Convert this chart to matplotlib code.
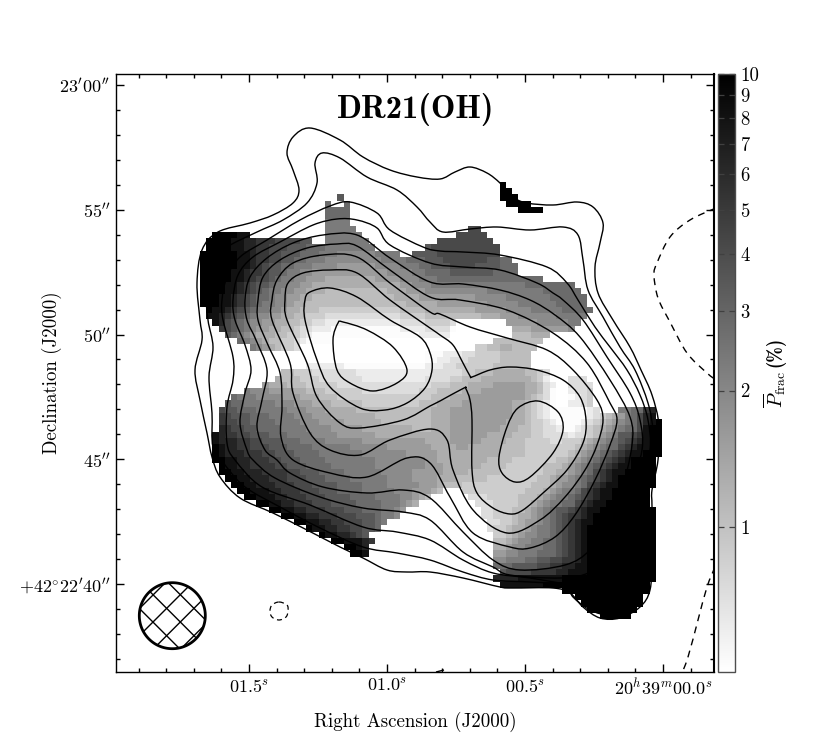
import numpy as np
import matplotlib
matplotlib.use("Agg")
import matplotlib.pyplot as plt
from matplotlib.colors import LogNorm
from matplotlib.path import Path
from matplotlib.patches import PathPatch

plt.rcParams["font.family"] = ["cmr10", "DejaVu Serif"]
plt.rcParams["mathtext.fontset"] = "cm"
plt.rcParams["axes.unicode_minus"] = False
plt.rcParams["axes.formatter.use_mathtext"] = True

# map values: one char per 0.25 arcsec cell, '.' = blanked, see LEVEL_VALUES
LEVEL_CHARS = "0123456789abcdef"
LEVEL_VALUES = [0.5, 0.6, 0.72, 0.87, 1.05, 1.27, 1.55, 1.9, 2.3, 2.8, 3.4, 4.2, 5.2, 6.5, 8.0, 10.0]
PFRAC_ROWS = [
    ".......... .......... .......... .......... ........f.",
    ".......... .......... .......... .......... ........ff",
    ".......... .......... ..a....... .......... ........ff f",
    ".......... .......... 9..9...... .......... .........f fff",
    ".......... .......... 9999...... .......... .......... .ffff",
    ".......... .......... 9999",
    ".......... .......... 8888",
    ".......... .......... 88888..... .......... ...bb",
    "..ffffee.. .......... 888888.... .......... .bbbbb",
    ".ffffeeddc ccbbbbaa.. 8888888... ........bb bbbbbbb",
    ".ffffeeddc cbbbaaa999 88888888.. ......abbb bbbbbbbb",
    "ffffffeedc cbbaaa9998 8877777788 88..aaaabb bbbbbbbb",
    "ffffffeedc cbbaa99888 7777777778 888999aaab bbbbbbaa99",
    "ffffffeedc baa9988877 7766666677 7788899aaa bbbbaaaa99 9",
    "fffffeedcc baa9887766 6666666666 7777889999 aaaaaaa999 9",
    "fffffeedcb ba98877666 5555555566 6677788899 9999999999 99999",
    "ffffeedcba a988776655 5555555555 5566777888 8888888888 8899999999",
    "ffffeedcba 9887766555 4444444444 5556667777 7777778888 8888899999 9",
    "fffeedcba9 9877665544 4444444444 4555566666 6666777778 8888889999 99",
    "fffeedcba9 8877655444 4444444444 4445555566 6666667777 7888888999 99",
    ".feedcba98 8776554443 3333333333 3344445555 5555666667 7778888899 999",
    ".eedcba987 7665544333 2222222222 2233334444 4444455566 6777777888 88",
    "..edba9877 6655443322 1111111111 1122223333 2........6 6666777778 8",
    "...cba9876 6554432211 1000000000 0011112222 0......... 5556666667",
    "....a98765 5544332100 0000000000 0000011111 .......... 444555",
    "......9876 5443321000 0......... .......... .......444 44444",
    "........87 654332.... .......... .......... ....334455 4444",
    ".......... .......... .......... ......0001 1122333344 444",
    ".......... .......... .......... ......0011 2223333344 444",
    ".......... .......111 1110000000 0000001112 2333333444 444",
    ".......... ...4433322 2222211111 1111111222 2233444555 554432",
    ".......... ..54443332 2222221111 1111112222 3344455555 555431...2 22",
    ".......... 6555444333 3322222222 2222222333 4445555666 6655421..2 222",
    ".......877 7666655444 3333332222 2222233344 4455566666 6655420..1 223",
    ".....98887 7776665554 4433333333 3333333444 5556666666 6654320..0 123",
    "....a99888 8877766655 5444443333 3333344455 5566666666 5543210..1 123",
    "...baa9998 8888777666 5555544444 4444444555 6666666666 5543210000 0012...889 9cd",
    "...cbaaa99 9888877766 6555555544 4444444555 6666666666 5543210000 0012345689 bde",
    "...cbbaa99 9988887776 6665555554 4444444555 6666666665 5543321000 0123456789 bdef",
    "...dcbbaa9 9998888777 7666665555 5555444555 6666666655 5443322100 1234567899 beff",
    "..edccbbaa a999888877 7766666655 5555555555 6666665555 4443322221 2234678aab ceff",
    "..edddccbb aaa9998888 7777776666 6666665555 6666655554 4433332233 3456789abc deff",
    "..feddccbb baaa999988 8888777777 6666666555 5665555544 4433333333 4567899bcd eeff",
    "..fedddccc bbaaa99998 8888887777 7776666655 5555555544 4433333334 56789abcde efff",
    "..ffeeddcc cbbaaa9999 8888888877 7777776655 5555554444 3333333445 6789abcdef fff",
    "...feeddcc ccbbaaa999 9888888877 7777776665 5555544443 3333344456 789abcdeef fff",
    "...ffeeddd ccccbbaaa9 9998888887 7777666665 5554444433 3333344556 789bcdeeff fff",
    "....ffeedd dcccbbbaaa 9999888888 7777666655 5444443333 3333445667 89abcdefff fff",
    ".....ffeed ddcccbbbaa aa99998888 7777766654 4433333333 3334445677 89bcdeefff fff",
    "......ffee eddcccbbba aa99998888 877766654. ..33333333 3344456788 9bcdeeffff ff",
    ".......ffe eeddcccbbb aaaa999988 8877654... ...2223333 3444567889 abcdeeffff ff",
    ".........f feeddcccbb baaaa99998 88765..... ....222333 3445678899 bcdeefffff ff",
    ".......... .ffeeddccc bbbaaa9998 876....... .....22333 4456789aab cdeeffffff fff",
    ".......... ...ffeeddc ccbbbaaa98 87........ .....22333 4556789abc cdefffffff fff",
    ".......... .....ffeed dccbbbaa98 .......... ......2233 4566789abc deefffffff fff",
    ".......... .......fee ddccbbaa9. .......... ......2334 5567889abc deffffffff fff",
    ".......... .........f eeddcba... .......... .......334 5677889abc deffffffff fff",
    ".......... .......... .ffeeedc.. .......... .......445 6778899abc deffffffff fff",
    ".......... .......... ...ffed... .......... .......556 7788899abc deffffffff fff",
    ".......... .......... ....ffe... .......... .......667 7888999abc deffffffff fff",
    ".......... .......... .......... .......... .......778 8899aabbcc deffffffff fff",
    ".......... .......... .......... .......... .......999 aaaabbccdd eeffffffff fff",
    ".......... .......... .......... .......... ........ab bbbccccdde eeffffffff fff",
    ".......... .......... .......... .......... .......ddd deeeeeeeff ffffffffff fff",
    ".......... .......... .......... .......... ........ee eeeeefffff ffffffffff ff",
    ".......... .......... .......... .......... .......... ........ff ffffffffff ff",
    ".......... .......... .......... .......... .......... .......... ffffffffff f",
    ".......... .......... .......... .......... .......... .......... .fffffffff f",
    ".......... .......... .......... .......... .......... .......... ..ffffffff",
    ".......... .......... .......... .......... .......... .......... ....fffff.",
]

# contours (converted to RA/Dec below)
CONTOUR_1 = [(310, 128), (340, 140), (363, 157), (390, 170), (417, 177), (440, 179), (455, 172), (470, 167), (487, 173), (500, 183), (513, 197), (527, 203), (553, 205), (577, 202), (593, 207), (603, 223), (600, 243), (595, 267), (598, 293), (613, 320), (630, 347), (641, 370), (652, 395), (659, 425), (658, 460), (652, 490), (652, 507), (652, 557), (650, 590), (640, 607), (620, 618), (600, 618), (583, 607), (570, 593), (553, 588), (513, 588), (500, 587), (463, 578), (430, 572), (407, 572), (387, 570), (363, 558), (340, 547), (307, 530), (273, 513), (240, 498), (220, 477), (212, 457), (207, 433), (200, 400), (195, 370), (202, 340), (200, 320), (197, 283), (202, 250), (218, 232), (250, 223), (273, 215), (293, 203), (299, 190), (293, 170), (287, 153), (293, 137)]
CONTOUR_2 = [(322, 153), (340, 158), (367, 177), (397, 190), (417, 207), (430, 222), (443, 232), (470, 229), (497, 227), (530, 230), (563, 227), (578, 235), (583, 260), (588, 290), (603, 317), (620, 347), (635, 370), (648, 403), (653, 430), (654, 457), (647, 483), (643, 503), (642, 557), (637, 590), (627, 607), (610, 615), (590, 610), (573, 597), (565, 585), (530, 582), (493, 580), (463, 572), (430, 560), (397, 553), (363, 547), (320, 528), (280, 507), (245, 487), (225, 465), (213, 447), (212, 413), (209, 377), (213, 347), (208, 320), (206, 290), (212, 262), (227, 247), (257, 232), (283, 220), (307, 203), (317, 183), (315, 163)]
CONTOUR_3 = [(350, 202), (377, 213), (390, 230), (423, 247), (440, 251), (463, 252), (500, 255), (547, 267), (567, 283), (578, 300), (595, 327), (610, 347), (627, 370), (640, 395), (648, 420), (650, 450), (640, 490), (632, 520), (628, 545), (618, 572), (600, 592), (570, 585), (530, 578), (493, 573), (463, 560), (430, 540), (397, 532), (363, 527), (310, 505), (262, 487), (235, 460), (227, 443), (227, 407), (233, 380), (233, 357), (223, 320), (222, 300), (227, 277), (240, 257), (267, 240), (300, 220), (330, 206)]
CONTOUR_4 = [(357, 220), (377, 228), (390, 245), (430, 263), (463, 267), (500, 270), (537, 283), (553, 293), (563, 300), (583, 320), (607, 357), (630, 393), (640, 420), (642, 450), (630, 490), (620, 520), (610, 550), (590, 572), (560, 578), (510, 575), (493, 567), (463, 552), (430, 520), (403, 512), (363, 508), (320, 497), (275, 478), (253, 460), (247, 450), (240, 423), (245, 393), (251, 370), (245, 345), (235, 320), (233, 300), (238, 275), (253, 257), (280, 242), (313, 225), (337, 219)]
CONTOUR_5 = [(357, 235), (390, 258), (430, 282), (463, 284), (500, 290), (530, 300), (555, 315), (580, 337), (610, 380), (630, 417), (632, 445), (622, 490), (610, 520), (590, 550), (565, 565), (520, 570), (493, 560), (463, 532), (430, 498), (403, 490), (367, 493), (323, 487), (290, 473), (277, 460), (265, 450), (257, 427), (262, 400), (267, 370), (256, 340), (247, 320), (245, 300), (250, 277), (267, 258), (293, 243), (323, 235)]
CONTOUR_6 = [(357, 246), (390, 270), (430, 297), (460, 300), (507, 310), (553, 333), (587, 363), (610, 403), (617, 420), (610, 445), (595, 480), (575, 515), (555, 537), (530, 548), (510, 547), (473, 533), (450, 497), (430, 463), (407, 458), (367, 477), (330, 473), (293, 460), (281, 437), (282, 407), (280, 373), (268, 345), (258, 320), (258, 300), (263, 277), (280, 260), (307, 248), (337, 244)]
CONTOUR_7 = [(357, 257), (390, 283), (430, 312), (440, 314), (470, 327), (507, 338), (547, 350), (573, 370), (597, 400), (603, 420), (597, 445), (585, 470), (565, 497), (540, 520), (507, 533), (473, 510), (453, 470), (447, 440), (430, 429), (390, 440), (360, 455), (330, 450), (310, 433), (293, 393), (290, 363), (272, 320), (272, 300), (277, 280), (293, 263), (323, 255)]
CONTOUR_8 = [(330, 270), (357, 273), (390, 300), (430, 328), (440, 335), (453, 345), (463, 363), (470, 376), (472, 377), (490, 370), (510, 367), (537, 370), (563, 380), (580, 397), (586, 420), (583, 443), (567, 470), (543, 493), (523, 510), (510, 514), (493, 508), (477, 493), (472, 470), (472, 420), (470, 400), (466, 389), (464, 388), (440, 401), (430, 406), (403, 420), (360, 428), (340, 423), (317, 397), (307, 363), (287, 320), (285, 300), (288, 283), (303, 273)]
CONTOUR_9 = [(330, 288), (357, 297), (390, 320), (420, 337), (430, 353), (432, 370), (425, 388), (407, 403), (385, 410), (360, 408), (330, 387), (317, 360), (305, 320), (305, 300), (310, 292)]
CONTOUR_LEFT_PEAK = [(343, 322), (367, 330), (393, 347), (407, 370), (397, 383), (373, 391), (350, 383), (337, 370), (333, 340), (338, 323)]
CONTOUR_RIGHT_PEAK = [(538, 401), (558, 412), (563, 430), (553, 453), (530, 477), (515, 482), (502, 473), (499, 457), (507, 427), (518, 408)]
NEG_UPPER = [(716, 208), (690, 220), (670, 237), (657, 263), (654, 275), (658, 298), (670, 322), (687, 353), (707, 373), (716, 380)]
NEG_LOWER = [(715, 567), (707, 587), (698, 620), (688, 657), (680, 678)]
NEG_BOTTOM = [(436, 672), (440, 671), (444, 670)]
NEG_BLOB = [(279, 602), (287, 605), (288, 611), (286, 617), (279, 620), (272, 617), (270, 611), (272, 605)]

RA_MAJOR = [1.5, 1.0, 0.5, 0.0]
RA_LABELS = [r"$01.5^{s}$", r"$01.0^{s}$", r"$00.5^{s}$", r"$20^{h}39^{m}00.0^{s}$"]
DEC_MAJOR = [40, 45, 50, 55, 60]
DEC_LABELS = [r"$+42^{\circ}22^{\prime}40^{\prime\prime}$", r"$45^{\prime\prime}$", r"$50^{\prime\prime}$",
              r"$55^{\prime\prime}$", r"$23^{\prime}00^{\prime\prime}$"]
CBAR_TICKS = [1, 2, 3, 4, 5, 6, 7, 8, 9, 10]
HATCH_DOWN = [-29, -1.7, 25.7]
HATCH_UP = [-40, -13, 14.3, 41.7]

W, H = 830, 747
AX_L, AX_R, AX_T, AX_B = 116, 713.5, 74, 672
CELL = 6.24
CELL_X0, CELL_Y0 = 200, 182


def to_ra(px):  # picture x -> RA seconds
    return (663.0 - np.asarray(px, dtype=float)) / 276.0


def to_dec(py):  # picture y -> Dec arcsec
    return 40.0 + (584.0 - np.asarray(py, dtype=float)) / 24.95


def smooth_path(pts, closed=True):
    p = np.array(pts, dtype=float)
    p = np.column_stack([to_ra(p[:, 0]), to_dec(p[:, 1])])
    n = len(p)
    verts = [p[0]]
    codes = [Path.MOVETO]
    for i in range(n if closed else n - 1):
        if closed:
            p0, p1, p2, p3 = p[(i - 1) % n], p[i], p[(i + 1) % n], p[(i + 2) % n]
        else:
            p0, p1, p2, p3 = p[max(i - 1, 0)], p[i], p[i + 1], p[min(i + 2, n - 1)]
        verts += [p1 + (p2 - p0) / 6, p2 - (p3 - p1) / 6, p2]
        codes += [Path.CURVE4] * 3
    return Path(verts, codes)


grid = np.full((len(PFRAC_ROWS), 74), np.nan)
for r, row in enumerate(PFRAC_ROWS):
    row = row.replace(" ", "")
    for c, ch in enumerate(row):
        if ch != ".":
            grid[r, c] = LEVEL_VALUES[LEVEL_CHARS.index(ch)]

fig = plt.figure(figsize=(W / 100, H / 100), dpi=100)
ax = fig.add_axes([AX_L / W, 1 - AX_B / H, (AX_R - AX_L) / W, (AX_B - AX_T) / H])
cax = fig.add_axes([718 / W, 1 - AX_B / H, 17 / W, (AX_B - AX_T) / H])

cmap = plt.get_cmap("gray_r").copy()
cmap.set_bad("white")
norm = LogNorm(vmin=0.478, vmax=10)
extent = (to_ra(CELL_X0), to_ra(CELL_X0 + 74 * CELL), to_dec(CELL_Y0 + grid.shape[0] * CELL), to_dec(CELL_Y0))
im = ax.imshow(np.ma.masked_invalid(grid), cmap=cmap, norm=norm, extent=extent, origin="upper",
               aspect="auto", interpolation="nearest", zorder=1)

for pts in [CONTOUR_1, CONTOUR_2, CONTOUR_3, CONTOUR_4, CONTOUR_5, CONTOUR_6, CONTOUR_7, CONTOUR_8, CONTOUR_9,
            CONTOUR_LEFT_PEAK, CONTOUR_RIGHT_PEAK]:
    ax.add_patch(PathPatch(smooth_path(pts), fill=False, ec="k", lw=1.0, zorder=3))
ax.add_patch(PathPatch(smooth_path(NEG_UPPER, closed=False), fill=False, ec="k", lw=1.0, ls=(0, (5, 4)), zorder=3))
ax.add_patch(PathPatch(smooth_path(NEG_LOWER, closed=False), fill=False, ec="k", lw=1.0, ls=(0, (5, 4)), zorder=3))
ax.add_patch(PathPatch(smooth_path(NEG_BOTTOM, closed=False), fill=False, ec="k", lw=1.0, zorder=3))
ax.add_patch(PathPatch(smooth_path(NEG_BLOB), fill=False, ec="k", lw=0.9, ls=(0, (4, 3)), zorder=3))

ax.set_xlim(to_ra(AX_L), to_ra(AX_R))
ax.set_ylim(to_dec(AX_B), to_dec(AX_T))

# beam with crossed hatching
bx, by = float(to_ra(172.3)), float(to_dec(615.7))
sx, sy = 1 / 276.0, 1 / 24.95
theta = np.linspace(0, 2 * np.pi, 200)
clip = plt.Polygon(np.column_stack([bx + 33 * sx * np.cos(theta), by + 33 * sy * np.sin(theta)]),
                   transform=ax.transData, fill=False, ec="k", lw=2.0, zorder=5)
ax.add_patch(clip)
t = np.array([-60, 60])
for off in HATCH_DOWN:
    ln, = ax.plot(bx - (t - off / 2) * sx, by - (t + off / 2) * sy, color="k", lw=1.0, zorder=4)
    ln.set_clip_path(clip)
for off in HATCH_UP:
    ln, = ax.plot(bx - (t + off / 2) * sx, by - (off / 2 - t) * sy, color="k", lw=1.0, zorder=4)
    ln.set_clip_path(clip)

ax.set_xticks(RA_MAJOR)
ax.set_xticklabels(RA_LABELS, fontsize=13)
ax.set_xticks(np.arange(-1, 20) / 10, minor=True)
ax.set_yticks(DEC_MAJOR)
ax.set_yticklabels(DEC_LABELS, fontsize=13)
ax.set_yticks(np.arange(37, 61), minor=True)
ax.tick_params(which="major", direction="in", length=6, width=1.0, top=True, right=True, pad=4)
ax.tick_params(which="minor", direction="in", length=3, width=1.0, top=True, right=True)
for s in ax.spines.values():
    s.set_linewidth(1.0)
ax.spines["right"].set_linewidth(1.5)

ax.set_xlabel("Right Ascension (J2000)", fontsize=13.6)
ax.xaxis.set_label_coords((415 - AX_L) / (AX_R - AX_L), -(712 - AX_B) / (AX_B - AX_T))
ax.set_ylabel("Declination (J2000)", fontsize=13.6)
ax.yaxis.set_label_coords(-(AX_L - 62) / (AX_R - AX_L), (AX_B - 373) / (AX_B - AX_T))
ax.text((416 - AX_L) / (AX_R - AX_L), (AX_B - 109) / (AX_B - AX_T), "DR21(OH)", family="cmb10", fontsize=23.5,
        ha="center", va="center", transform=ax.transAxes, zorder=6)

cb = fig.colorbar(im, cax=cax)
cb.set_ticks(CBAR_TICKS)
cb.set_ticklabels([str(v) for v in CBAR_TICKS], fontsize=13.5)
cb.minorticks_off()
cax.tick_params(which="major", direction="in", length=4.5, width=0.9, left=True, right=True, color="0.25", pad=4)
cb.outline.set_linewidth(1.0)
cb.outline.set_edgecolor("0.3")
fig.text(775 / W, 1 - 389 / H, r"$\overline{P}_{\mathrm{frac}}$", fontsize=14, rotation=90, ha="center", va="center")
fig.text(775 / W, 1 - 352 / H, "(%)", family="cmb10", fontsize=13.5, rotation=90, ha="center", va="center")

fig.savefig("out.png", dpi=100)
